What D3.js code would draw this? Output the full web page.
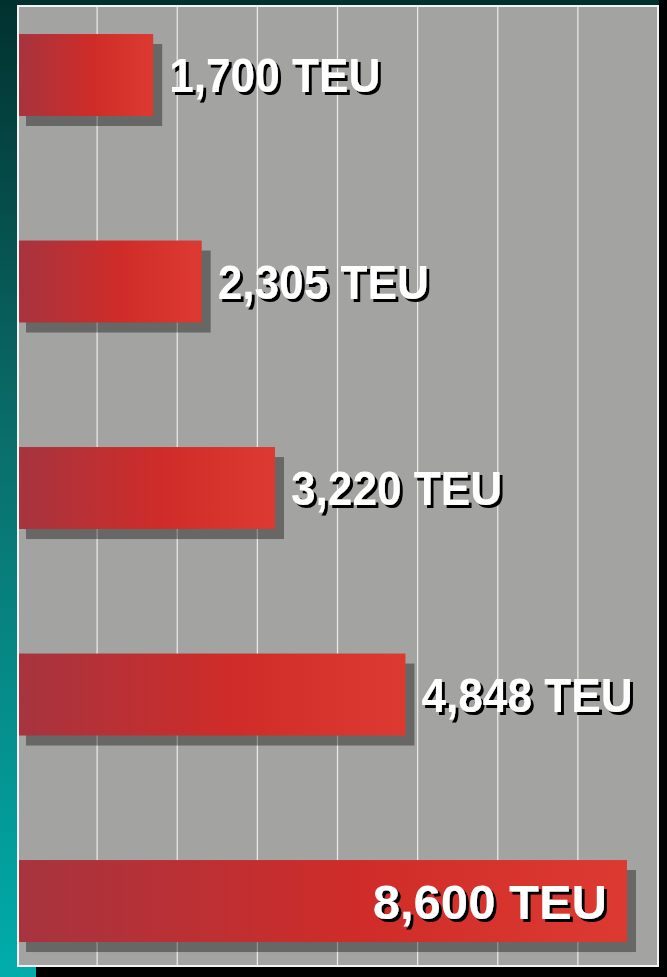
<!DOCTYPE html>
<html>
<head>
<meta charset="utf-8">
<script src="https://cdn.jsdelivr.net/npm/d3@7"></script>
<style>
  html, body { margin: 0; padding: 0; background: #000; }
  svg { display: block; }
</style>
</head>
<body>
<div id="chart"></div>
<script>
// Container ship capacities by generation (TEU)
const ships = ["gen1", "gen2", "gen3", "gen4", "gen5"];
const capacities = [1700, 2305, 3220, 4848, 8600];
const labels = ["1,700 TEU", "2,305 TEU", "3,220 TEU", "4,848 TEU", "8,600 TEU"];
const gridTicks = [1000, 2000, 3000, 4000, 5000, 6000, 7000];

const W = 667, H = 977;
const plot = { x: 18, y: 6, w: 640, h: 960 };

const svg = d3.select("#chart").append("svg")
  .attr("width", W).attr("height", H);

const defs = svg.append("defs");

// slide backdrop: black with a teal left strip and dark top band
const sideGrad = defs.append("linearGradient")
  .attr("id", "side").attr("x1", 0).attr("y1", 0).attr("x2", 0).attr("y2", 1);
sideGrad.append("stop").attr("offset", 0).attr("stop-color", "#01312f");
sideGrad.append("stop").attr("offset", 0.45).attr("stop-color", "#0a6e6b");
sideGrad.append("stop").attr("offset", 1).attr("stop-color", "#00adab");

const barGrad = defs.append("linearGradient")
  .attr("id", "bar").attr("x1", 0).attr("y1", 0).attr("x2", 1).attr("y2", 0);
barGrad.append("stop").attr("offset", 0).attr("stop-color", "#a6343f");
barGrad.append("stop").attr("offset", 0.55).attr("stop-color", "#cf2c29");
barGrad.append("stop").attr("offset", 1).attr("stop-color", "#dc3a31");

// hard black drop shadow for the value labels
const shadow = defs.append("filter").attr("id", "txtShadow")
  .attr("x", "-10%").attr("y", "-20%").attr("width", "130%").attr("height", "150%");
shadow.append("feDropShadow")
  .attr("dx", 3).attr("dy", 3).attr("stdDeviation", 0.4)
  .attr("flood-color", "#000").attr("flood-opacity", 1);

svg.append("rect").attr("width", W).attr("height", H).attr("fill", "#000");
svg.append("rect").attr("width", W - 8).attr("height", 7).attr("fill", "#01302e");
svg.append("rect").attr("width", 36).attr("height", H).attr("fill", "url(#side)");

// plot panel
svg.append("rect")
  .attr("x", plot.x).attr("y", plot.y).attr("width", plot.w).attr("height", plot.h)
  .attr("fill", "#a3a3a1");

// scales
const x = d3.scaleLinear().domain([0, 8000]).range([plot.x - 1, plot.x + plot.w]);
// the longest bar runs past the axis, so it is drawn on a broken scale
const axisBreakEnd = 7613;
const xBar = d3.scaleLinear()
  .domain([0, 5000, 8600])
  .range([x(0), x(5000), x(axisBreakEnd)]);

const y = d3.scaleBand()
  .domain(ships)
  .range([plot.y + 1, plot.y + plot.h])
  .paddingInner(0.603)
  .paddingOuter(0.1235)
  .align(0.53);

const data = ships.map((s, i) => ({ ship: s, value: capacities[i], label: labels[i] }));

// gridlines
svg.append("g").selectAll("line").data(gridTicks).join("line")
  .attr("x1", d => x(d)).attr("x2", d => x(d))
  .attr("y1", plot.y).attr("y2", plot.y + plot.h)
  .attr("stroke", "#ededed").attr("stroke-width", 1.2);

const bars = svg.append("g");
// drop shadows
bars.selectAll("rect.shadow").data(data).join("rect")
  .attr("class", "shadow")
  .attr("x", x(0) + 9)
  .attr("y", d => y(d.ship) + 10)
  .attr("width", d => xBar(d.value) - x(0))
  .attr("height", y.bandwidth())
  .attr("fill", "rgba(0,0,0,0.37)");
// bars
bars.selectAll("rect.bar").data(data).join("rect")
  .attr("class", "bar")
  .attr("x", x(0))
  .attr("y", d => y(d.ship))
  .attr("width", d => xBar(d.value) - x(0))
  .attr("height", y.bandwidth())
  .attr("fill", "url(#bar)");

// panel border
svg.append("rect")
  .attr("x", plot.x).attr("y", plot.y).attr("width", plot.w).attr("height", plot.h)
  .attr("fill", "none").attr("stroke", "#f4f4f4").attr("stroke-width", 2);

// value labels: outside the bar, except the last one which sits inside
const last = ships[ships.length - 1];
svg.append("g")
  .attr("font-family", "'Liberation Sans', Arial, sans-serif")
  .attr("font-weight", "bold")
  .attr("filter", "url(#txtShadow)")
  .selectAll("text").data(data).join("text")
  .attr("transform", d => {
    const inside = d.ship === last;
    const px = inside ? xBar(d.value) - 20 : xBar(d.value) + 16;
    const py = y(d.ship) + y.bandwidth() / 2;
    const sx = inside ? 1 : 0.93;
    return `translate(${px},${py}) scale(${sx},1)`;
  })
  .attr("dy", "0.36em")
  .attr("text-anchor", d => d.ship === last ? "end" : "start")
  .attr("font-size", d => d.ship === last ? 49 : 47.5)
  .attr("fill", "#fff")
  .text(d => d.label);
</script>
</body>
</html>
